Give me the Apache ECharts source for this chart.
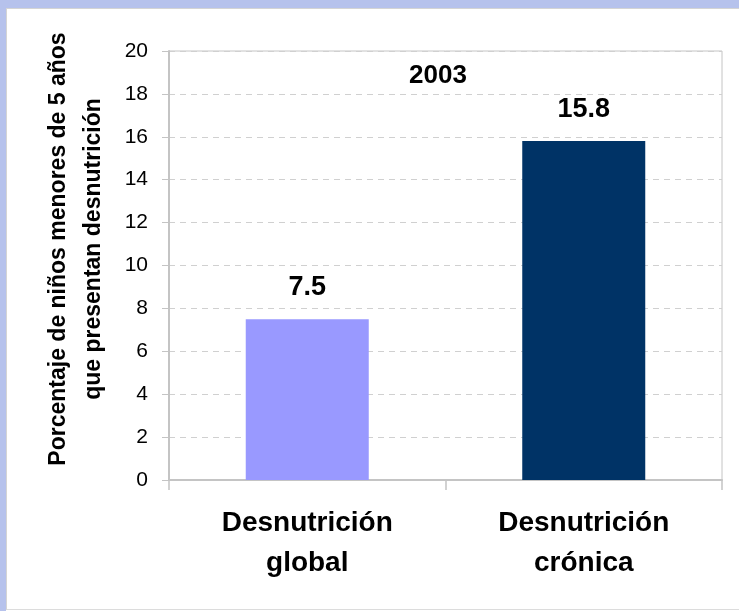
<!DOCTYPE html>
<html>
<head>
<meta charset="utf-8">
<script src="https://cdn.jsdelivr.net/npm/echarts@6/dist/echarts.min.js"></script>
<style>
  html, body { margin: 0; padding: 0; background: #ffffff; }
  #topband { position: absolute; left: 0; top: 0; width: 739px; height: 8px; background: #b6c2ec; }
  #leftband { position: absolute; left: 0; top: 0; width: 6px; height: 611px; background: #b6c2ec; }
  #chart { position: absolute; left: 6px; top: 8px; width: 733px; height: 602px; background: #ffffff;
           border-left: 1px solid #d4d4d4; border-top: 1px solid #d4d4d4; border-bottom: 1px solid #dcdcdc; box-sizing: border-box; }
</style>
</head>
<body>
<div id="topband"></div>
<div id="leftband"></div>
<div id="chart"></div>
<script>
const categories = ['Desnutrición\nglobal', 'Desnutrición\ncrónica'];
const values = [7.5, 15.8];
const barColors = ['#9999ff', '#003366'];
const yearLabel = '2003';
const yAxisTitle = 'Porcentaje de niños menores de 5 años\nque presentan desnutrición';

const chart = echarts.init(document.getElementById('chart'), null, { renderer: 'canvas' });
const OX = 6, OY = 8, H = 602;
const font = 'Liberation Sans, Arial, sans-serif';

chart.setOption({
  animation: false,
  backgroundColor: 'transparent',
  title: {
    text: yearLabel,
    left: 432 - OX,
    top: 57 - OY,
    textAlign: 'center',
    textStyle: { fontFamily: font, fontSize: 26, fontWeight: 'bold', color: '#000' }
  },
  graphic: [{
    type: 'text',
    x: 75 - OX,
    y: 248 - OY,
    rotation: Math.PI / 2,
    style: {
      text: yAxisTitle,
      font: 'bold 23px ' + font,
      fill: '#000',
      textAlign: 'center',
      textVerticalAlign: 'middle',
      verticalAlign: 'middle',
      lineHeight: 35
    }
  }],
  grid: {
    left: 168 - OX,
    right: 739 - 722,
    top: 50 - OY,
    bottom: (OY + H) - 481,
    show: true,
    borderColor: '#c4c4c4',
    borderWidth: 1,
    containLabel: false
  },
  xAxis: {
    type: 'category',
    data: categories,
    boundaryGap: true,
    axisLine: { show: true, lineStyle: { color: '#c4c4c4', width: 2 } },
    axisTick: { show: true, length: 10, inside: false, alignWithLabel: false, lineStyle: { color: '#c4c4c4', width: 1.5 } },
    axisLabel: {
      margin: 23,
      fontFamily: font,
      fontSize: 28,
      fontWeight: 'bold',
      color: '#000',
      lineHeight: 40,
      interval: 0
    },
    splitLine: { show: false }
  },
  yAxis: {
    type: 'value',
    min: 0,
    max: 20,
    interval: 2,
    axisLine: { show: true, lineStyle: { color: '#c4c4c4', width: 2 } },
    axisTick: { show: true, length: 7, lineStyle: { color: '#c4c4c4', width: 1 } },
    axisLabel: { margin: 21, fontFamily: font, fontSize: 21, color: '#000' },
    splitLine: { show: true, lineStyle: { color: '#d0d0d0', width: 1, type: [6, 5] } }
  },
  series: [{
    type: 'bar',
    data: values.map((v, i) => ({ value: v, itemStyle: { color: barColors[i] } })),
    barWidth: 123,
    label: {
      show: true,
      position: 'top',
      distance: 18,
      fontFamily: font,
      fontSize: 27,
      fontWeight: 'bold',
      color: '#000',
      formatter: p => p.value.toFixed(1)
    }
  }]
});
</script>
</body>
</html>
